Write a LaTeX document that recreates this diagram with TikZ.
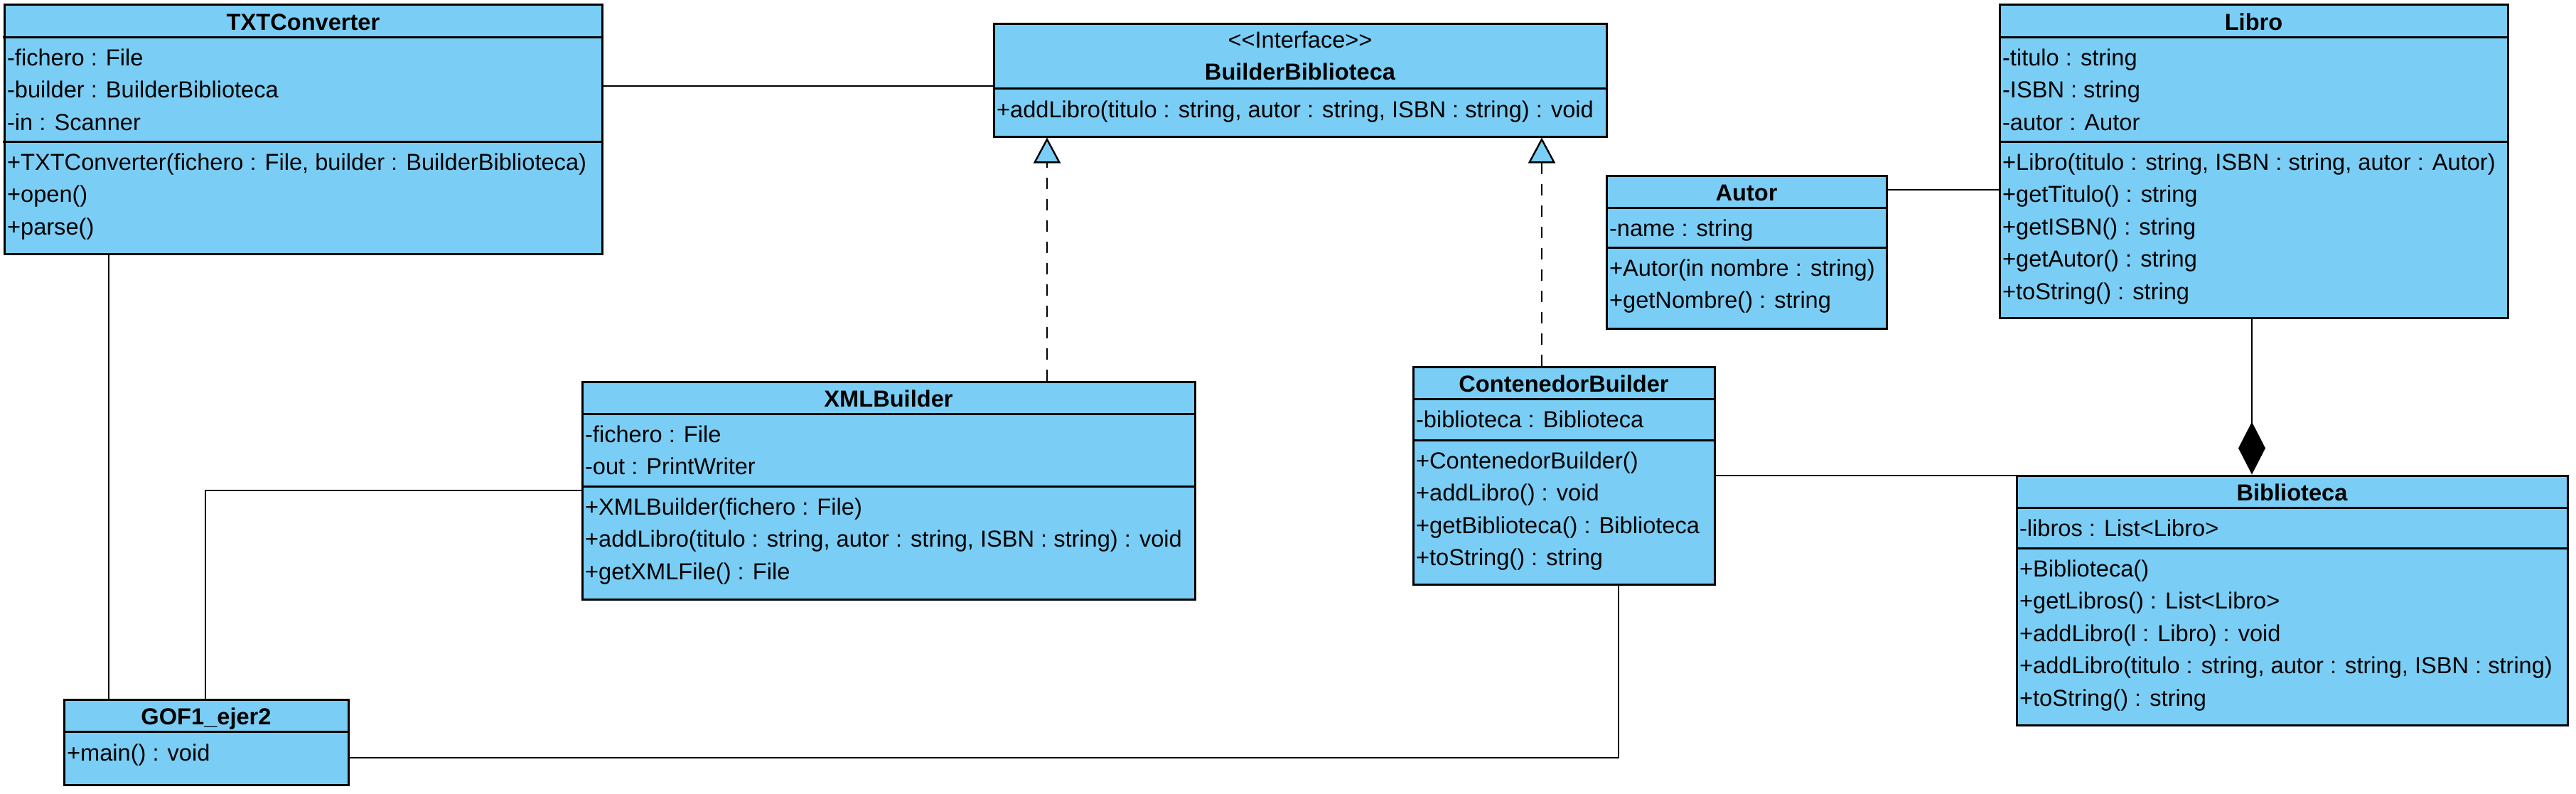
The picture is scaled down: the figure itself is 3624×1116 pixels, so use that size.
\documentclass[tikz,border=0pt]{standalone}
\usepackage{fontspec}
\setmainfont{Liberation Sans}
\usetikzlibrary{arrows.meta}
\usetikzlibrary{fit}

\definecolor{classblue}{RGB}{122,206,245}
\newcommand{\umlfont}{\fontsize{8.15pt}{10pt}\selectfont}

\tikzset{
  classbox/.style={draw, line width=0.75pt, fill=classblue, inner sep=0pt},
  title/.style={anchor=base, inner sep=0pt, font=\umlfont\bfseries},
  member/.style={anchor=base west, inner sep=0pt, xshift=1.2pt},
  assoc/.style={line width=0.6pt},
  realize/.style={line width=0.6pt, dash pattern=on 4pt off 3.5pt,
    -{Triangle[length=9pt, width=9.5pt, fill=classblue]}},
  compo/.style={line width=0.6pt, -{Diamond[length=18.5pt, width=9.5pt]}},
}

% separator line across a class box
\newcommand{\compartment}[2]{\draw[line width=0.75pt] (#1.west |- 0,#2) -- (#1.east |- 0,#2);}
% one text line per entry, first baseline at #3
\newcommand{\members}[4]{%
  \foreach \txt [count=\i from 0] in {#4}
    \node[member] (#1-#2\i) at (#1.west |- 0,{#3+45.5*\i}) {\txt};
}

\begin{document}
\begin{tikzpicture}[x=0.25pt, y=-0.25pt, font=\umlfont]
  \useasboundingbox (0,0) rectangle (3624,1116);

  % classes
  \node[classbox, fit={(6,6) (847,357)}] (txt) {};
  \node[title] (txt-title) at (txt.center |- 0,42) {TXTConverter};
  \compartment{txt}{52}
  \compartment{txt}{199}
  \members{txt}{a}{92}{-fichero : File, -builder : BuilderBiblioteca, -in : Scanner}
  \members{txt}{m}{239}{{+TXTConverter(fichero : File, builder : BuilderBiblioteca)}, +open(), +parse()}

  \node[classbox, fit={(1398,33) (2260,192)}] (builder) {};
  \node[anchor=base, inner sep=0pt] (builder-stereo) at (builder.center |- 0,67) {<\kern0pt<Interface>\kern0pt>};
  \node[title] (builder-title) at (builder.center |- 0,112) {BuilderBiblioteca};
  \compartment{builder}{124}
  \members{builder}{m}{165}{{+addLibro(titulo : string, autor : string, ISBN : string) : void}}

  \node[classbox, fit={(2813,6) (3528,447)}] (libro) {};
  \node[title] (libro-title) at (libro.center |- 0,42) {Libro};
  \compartment{libro}{52}
  \compartment{libro}{199}
  \members{libro}{a}{92}{-titulo : string, -ISBN : string, -autor : Autor}
  \members{libro}{m}{239}{{+Libro(titulo : string, ISBN : string, autor : Autor)}, +getTitulo() : string,
    +getISBN() : string, +getAutor() : string, +toString() : string}

  \node[classbox, fit={(2260,247) (2654,462)}] (autor) {};
  \node[title] (autor-title) at (autor.center |- 0,282) {Autor};
  \compartment{autor}{292}
  \compartment{autor}{348}
  \members{autor}{a}{332}{-name : string}
  \members{autor}{m}{388}{+Autor(in nombre : string), +getNombre() : string}

  \node[classbox, fit={(819,537) (1681,843)}] (xml) {};
  \node[title] (xml-title) at (xml.center |- 0,572) {XMLBuilder};
  \compartment{xml}{582}
  \compartment{xml}{684}
  \members{xml}{a}{622}{-fichero : File, -out : PrintWriter}
  \members{xml}{m}{724}{+XMLBuilder(fichero : File), {+addLibro(titulo : string, autor : string, ISBN : string) : void},
    +getXMLFile() : File}

  \node[classbox, fit={(1988,516) (2412,822)}] (contenedor) {};
  \node[title] (contenedor-title) at (contenedor.center |- 0,551) {ContenedorBuilder};
  \compartment{contenedor}{561}
  \compartment{contenedor}{619}
  \members{contenedor}{a}{601}{-biblioteca : Biblioteca}
  \members{contenedor}{m}{659}{+ContenedorBuilder(), +addLibro() : void, +getBiblioteca() : Biblioteca,
    +toString() : string}

  \node[classbox, fit={(2837,669) (3612,1020)}] (biblioteca) {};
  \node[title] (biblioteca-title) at (biblioteca.center |- 0,704) {Biblioteca};
  \compartment{biblioteca}{714}
  \compartment{biblioteca}{771}
  \members{biblioteca}{a}{754}{-libros : List<Libro>}
  \members{biblioteca}{m}{811}{+Biblioteca(), +getLibros() : List<Libro>, +addLibro(l : Libro) : void,
    {+addLibro(titulo : string, autor : string, ISBN : string)}, +toString() : string}

  \node[classbox, fit={(90,984) (490,1104)}] (gof) {};
  \node[title] (gof-title) at (gof.center |- 0,1019) {GOF1\_ejer2};
  \compartment{gof}{1029}
  \members{gof}{m}{1070}{+main() : void}

  % associations
  \draw[assoc] (txt.east |- 0,121) -- (builder.west |- 0,121);
  \draw[assoc] (txt.south -| 153,0) -- (gof.north -| 153,0);
  \draw[assoc] (xml.west |- 0,690) -| (gof.north -| 289,0);
  \draw[assoc] (contenedor.south -| 2277,0) |- (gof.east |- 0,1066);
  \draw[assoc] (contenedor.east |- 0,669) -- (biblioteca.west |- 0,669);
  \draw[assoc] (autor.east |- 0,267) -- (libro.west |- 0,267);
  \draw[compo] (libro.south -| 3168,0) -- (biblioteca.north -| 3168,0);

  % realizations
  \draw[realize] (xml.north -| 1473,0) -- (builder.south -| 1473,0);
  \draw[realize] (contenedor.north -| 2169,0) -- (builder.south -| 2169,0);
\end{tikzpicture}
\end{document}
